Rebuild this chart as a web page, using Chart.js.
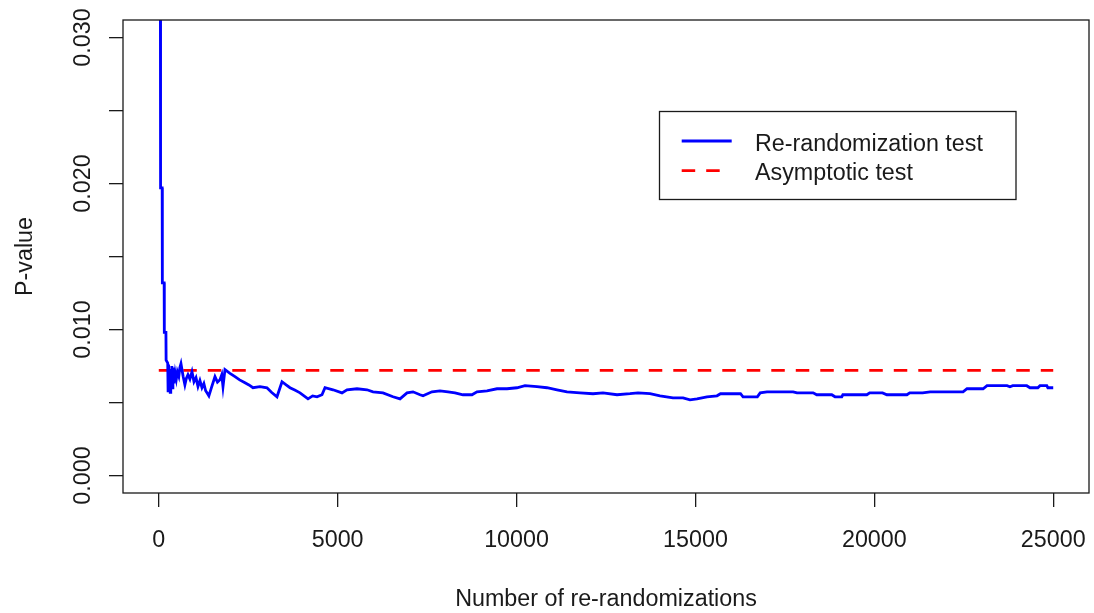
<!DOCTYPE html>
<html>
<head>
<meta charset="utf-8">
<title>P-value vs number of re-randomizations</title>
<script src="https://cdn.jsdelivr.net/npm/chart.js@4.4.1/dist/chart.umd.min.js"></script>
<style>
    html, body { margin: 0; padding: 0; background: #fff; }
    canvas { display: block; }
</style>
</head>
<body>
<canvas id="pvalueChart" width="1094" height="613"></canvas>
<script>
// Values
const xTicks = [0, 5000, 10000, 15000, 20000, 25000];
const yTicks = [0, 0.005, 0.01, 0.015, 0.02, 0.025, 0.03];
const yTickLabels = ['0.000', '', '0.010', '', '0.020', '', '0.030'];
const seriesNames = ['Re-randomization test', 'Asymptotic test'];
const xTitle = 'Number of re-randomizations';
const yTitle = 'P-value';

// re-randomization test: running p-value estimate
const nRerand = [
    40, 50, 95, 100, 150, 155, 200, 205, 250,
    260, 275, 290, 305, 320, 335, 350, 365, 380, 395, 410, 425, 440, 460, 490, 520, 560, 590,
    620, 680, 730, 770, 816, 870, 928, 984, 1040, 1096, 1150, 1207, 1260, 1310, 1347, 1400, 1470,
    1571, 1640, 1711, 1760, 1795, 1850, 1990, 2130, 2260, 2409, 2520, 2633, 2829,
    3024, 3150, 3304, 3444, 3560, 3668, 3800, 3948, 4171, 4300, 4423, 4562, 4646, 4870, 5121,
    5261, 5540, 5820, 5988, 6267, 6547, 6743, 6938, 7106, 7302, 7386, 7636, 7860, 8084, 8279,
    8503, 8754, 8894, 9174, 9453, 9733, 10012, 10236, 10571, 10851, 11130, 11410, 11773, 12137,
    12416, 12808, 13171, 13395, 13730, 14010, 14373, 14653, 14848, 15044, 15323, 15603, 15700,
    16260, 16330, 16730, 16810, 17000, 17730, 17840, 18290, 18390, 18810, 18900, 19090, 19120,
    19790, 19870, 20230, 20350, 20910, 20990, 21350, 21560, 22480, 22590, 23040, 23150, 23710,
    23790, 23870, 24260, 24350, 24570, 24630, 24820, 24850, 25000
];
const pRerand = [
    0.0450, 0.0197, 0.0197, 0.0132, 0.0132, 0.0098, 0.0098, 0.0079, 0.0077,
    0.0058, 0.0076, 0.0060, 0.0073, 0.0057, 0.0070, 0.0062, 0.0075, 0.0060, 0.0071, 0.0064, 0.0074, 0.0065, 0.0070, 0.0066, 0.0071, 0.0068, 0.0074,
    0.00766, 0.00680, 0.00621, 0.00665, 0.00690, 0.00660, 0.00711, 0.00642, 0.00670, 0.00610, 0.00650, 0.00601, 0.00630, 0.00580, 0.00566, 0.00545, 0.00600,
    0.00677, 0.00640, 0.00656, 0.00690, 0.00608, 0.00725, 0.00700, 0.00677, 0.00655, 0.00635, 0.00620, 0.00601, 0.00608,
    0.00601, 0.00570, 0.00539, 0.00642, 0.00620, 0.00601, 0.00585, 0.00566, 0.00525, 0.00545, 0.00539, 0.00553, 0.00601, 0.00587, 0.00566,
    0.00587, 0.00594, 0.00587, 0.00573, 0.00566, 0.00539, 0.00525, 0.00566, 0.00573, 0.00553, 0.00546, 0.00573, 0.00580, 0.00573, 0.00566,
    0.00553, 0.00553, 0.00573, 0.00580, 0.00594, 0.00594, 0.00601, 0.00615, 0.00608, 0.00601, 0.00587, 0.00573, 0.00566, 0.00560,
    0.00566, 0.00553, 0.00560, 0.00566, 0.00560, 0.00546, 0.00532, 0.00532, 0.00518, 0.00525, 0.00539, 0.00546, 0.00560,
    0.00560, 0.00539, 0.00539, 0.00566, 0.00573, 0.00573, 0.00566, 0.00566, 0.00553, 0.00553, 0.00539, 0.00539, 0.00553,
    0.00553, 0.00566, 0.00566, 0.00553, 0.00553, 0.00566, 0.00566, 0.00573, 0.00573, 0.00594, 0.00594, 0.00615, 0.00615,
    0.00608, 0.00615, 0.00615, 0.00601, 0.00601, 0.00615, 0.00615, 0.00601, 0.00601
];

// asymptotic test: constant p-value
const nAsym = [0, 25000];
const pAsym = [0.0072, 0.0072];

const FONT = '23.3px "Liberation Sans", Arial, sans-serif';
const INK = '#1a1a1a';
const DASH = [13.5, 11];

function toPoints(xs, ys) {
    return xs.map((x, i) => ({ x: x, y: ys[i] }));
}

// R-style frame, axis labels and boxed legend
const rFrame = {
    id: 'rFrame',
    afterDraw(chart) {
        const ctx = chart.ctx;
        const area = chart.chartArea;
        const xs = chart.scales.x;
        const ys = chart.scales.y;

        ctx.save();
        ctx.strokeStyle = INK;
        ctx.lineWidth = 1.3;
        ctx.strokeRect(area.left, area.top, area.right - area.left, area.bottom - area.top);

        ctx.fillStyle = INK;
        ctx.font = FONT;

        // x tick labels
        ctx.textAlign = 'center';
        ctx.textBaseline = 'alphabetic';
        xTicks.forEach(v => {
            ctx.fillText(String(v), xs.getPixelForValue(v), 547);
        });

        // x title
        ctx.fillText(xTitle, (area.left + area.right) / 2, 606);

        // y tick labels, rotated like R's las = 0
        yTicks.forEach((v, i) => {
            if (!yTickLabels[i]) return;
            ctx.save();
            ctx.translate(90, ys.getPixelForValue(v));
            ctx.rotate(-Math.PI / 2);
            ctx.fillText(yTickLabels[i], 0, 0);
            ctx.restore();
        });

        // y title
        ctx.save();
        ctx.translate(32, (area.top + area.bottom) / 2);
        ctx.rotate(-Math.PI / 2);
        ctx.fillText(yTitle, 0, 0);
        ctx.restore();

        // legend
        const lx = 659.5, ly = 111.5, lw = 356.5, lh = 88;
        ctx.fillStyle = '#fff';
        ctx.fillRect(lx, ly, lw, lh);
        ctx.strokeStyle = INK;
        ctx.lineWidth = 1.3;
        ctx.strokeRect(lx, ly, lw, lh);

        const rows = [141, 170.7];
        chart.data.datasets.forEach((ds, i) => {
            ctx.save();
            ctx.strokeStyle = ds.borderColor;
            ctx.lineWidth = ds.borderWidth;
            ctx.setLineDash(ds.borderDash || []);
            ctx.beginPath();
            ctx.moveTo(681.7, rows[i]);
            ctx.lineTo(ds.borderDash ? 729.5 : 731.7, rows[i]);
            ctx.stroke();
            ctx.restore();

            ctx.fillStyle = INK;
            ctx.textAlign = 'left';
            ctx.fillText(ds.label, 755, rows[i] + 9.6);
        });

        ctx.restore();
    }
};

document.addEventListener('DOMContentLoaded', function() {
    const ctx = document.getElementById('pvalueChart');

    const config = {
        type: 'line',
        data: {
            datasets: [{
                label: seriesNames[0],
                data: toPoints(nRerand, pRerand),
                borderColor: '#0000ff',
                borderWidth: 2.8,
                pointRadius: 0,
                tension: 0,
                fill: false,
                clip: 0,
                order: 0
            }, {
                label: seriesNames[1],
                data: toPoints(nAsym, pAsym),
                borderColor: '#ff0000',
                borderWidth: 2.8,
                borderDash: DASH,
                pointRadius: 0,
                tension: 0,
                fill: false,
                clip: 0,
                order: 1
            }]
        },
        options: {
            responsive: false,
            animation: false,
            devicePixelRatio: 1,
            layout: {
                padding: { left: 0, top: 20, right: 5, bottom: 0 }
            },
            plugins: {
                legend: { display: false },
                tooltip: { enabled: false }
            },
            scales: {
                x: {
                    type: 'linear',
                    min: -1000,
                    max: 26000,
                    afterBuildTicks: s => { s.ticks = xTicks.map(v => ({ value: v })); },
                    afterFit: s => { s.height = 120; },
                    border: { display: false },
                    grid: {
                        drawOnChartArea: false,
                        drawTicks: true,
                        tickLength: 14,
                        color: INK,
                        lineWidth: 1.3
                    },
                    ticks: { display: false }
                },
                y: {
                    type: 'linear',
                    min: -0.0012,
                    max: 0.0312,
                    afterBuildTicks: s => { s.ticks = yTicks.map(v => ({ value: v })); },
                    afterFit: s => { s.width = 123; },
                    border: { display: false },
                    grid: {
                        drawOnChartArea: false,
                        drawTicks: true,
                        tickLength: 14,
                        color: INK,
                        lineWidth: 1.3
                    },
                    ticks: { display: false }
                }
            }
        },
        plugins: [rFrame]
    };

    window.pvalueChart = new Chart(ctx, config);
});
</script>
</body>
</html>
